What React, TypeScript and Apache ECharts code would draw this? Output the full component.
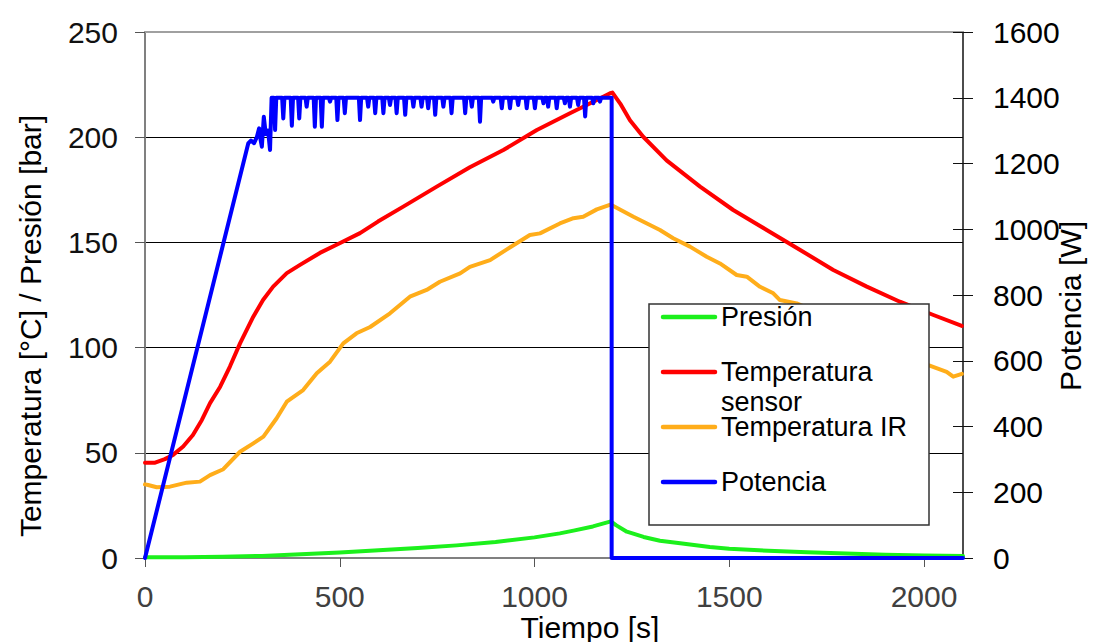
import React, { useEffect, useRef } from 'react';
import * as echarts from 'echarts';

// ---- Data (time [s], value) ----
const timeTicks = [0, 500, 1000, 1500, 2000];
const tempTicksMax = 250;
const powerTicksMax = 1600;

const presion: [number, number][] = [
  [0, 0.3], [100, 0.4], [200, 0.6], [300, 1.0], [400, 1.8], [500, 2.6], [600, 3.7],
  [700, 4.8], [800, 6.0], [900, 7.6], [1000, 9.8], [1065, 11.7], [1100, 13.0],
  [1150, 15.0], [1196, 17.4], [1210, 15.5], [1237, 12.5], [1280, 10.0], [1322, 8.2],
  [1374, 7.0], [1450, 5.2], [1500, 4.4], [1600, 3.4], [1700, 2.7], [1800, 2.1],
  [1900, 1.6], [2000, 1.2], [2100, 0.9],
];

const tempSensor: [number, number][] = [
  [0, 45.3], [26, 45.3], [51, 47], [72, 49], [98, 53], [123, 58.5], [146, 65.6],
  [167, 73.6], [193, 81.4], [218, 91], [244, 102], [278, 114.7], [303, 122.6],
  [329, 129], [364, 135.4], [398, 139.3], [449, 145], [501, 149.7], [552, 154.4],
  [598, 159.9], [663, 167], [749, 176.5], [834, 185.7], [920, 193.9], [1006, 203.4],
  [1091, 211.4], [1160, 217.7], [1194, 220.9], [1200, 221.2], [1220, 216], [1245, 208],
  [1279, 200.2], [1339, 189], [1425, 176.5], [1510, 165.4], [1596, 155.9],
  [1682, 146.4], [1767, 136.9], [1853, 129], [1938, 121.8], [2024, 115.5], [2097, 110.3],
];

const tempIR: [number, number][] = [
  [0, 35], [8, 34.7], [30, 33.6], [64, 33.9], [107, 35.8], [141, 36.3], [167, 39.4],
  [201, 42.2], [244, 50.5], [278, 54.5], [304, 57.7], [338, 66.4], [364, 74.3],
  [406, 79.8], [441, 87.8], [475, 93.3], [509, 102], [543, 106.8], [578, 109.8],
  [629, 116.3], [680, 124.2], [723, 127.4], [757, 131.3], [809, 135.3], [834, 138.4],
  [886, 141.6], [929, 146.7], [988, 153.5], [1014, 154.3], [1065, 159], [1100, 161.5],
  [1125, 162.2], [1160, 165.7], [1195, 168], [1254, 162.2], [1322, 155.9], [1356, 152],
  [1399, 148], [1442, 143.2], [1476, 140], [1519, 134.5], [1545, 133.7], [1579, 128.9],
  [1613, 125.8], [1630, 122.6], [1673, 121], [1760, 114], [1850, 106], [1940, 97],
  [2011, 91.7], [2058, 88.5], [2075, 86.2], [2097, 87.5],
];

const potencia: [number, number][] = [
  [0, 0], [265, 1261], [272, 1270], [280, 1262], [287, 1280], [293, 1307], [297, 1270],
  [300, 1251], [305, 1342], [310, 1290], [316, 1300], [321, 1241], [325, 1400],
  [331, 1400], [334, 1302], [337, 1400],
  [352, 1400], [355, 1337], [358, 1400],
  [374, 1400], [377, 1315], [380, 1400],
  [393, 1400], [396, 1337], [399, 1400],
  [412, 1400], [415, 1373], [418, 1400],
  [433, 1400], [436, 1312], [439, 1400],
  [451, 1400], [454, 1312], [457, 1400],
  [472, 1400], [475, 1388], [478, 1400],
  [491, 1400], [494, 1332], [497, 1400],
  [510, 1400], [513, 1353], [516, 1400],
  [549, 1400], [552, 1332], [555, 1400],
  [570, 1400], [573, 1373], [576, 1400],
  [588, 1400], [591, 1353], [594, 1400],
  [609, 1400], [612, 1353], [615, 1400],
  [626, 1400], [629, 1378], [632, 1400],
  [643, 1400], [646, 1353], [649, 1400],
  [665, 1400], [668, 1348], [671, 1400],
  [686, 1400], [689, 1373], [692, 1400],
  [707, 1400], [710, 1373], [713, 1400],
  [724, 1400], [727, 1368], [730, 1400],
  [742, 1400], [745, 1348], [748, 1400],
  [763, 1400], [766, 1373], [769, 1400],
  [784, 1400], [787, 1353], [790, 1400],
  [819, 1400], [822, 1353], [825, 1400],
  [836, 1400], [839, 1373], [842, 1400],
  [857, 1400], [860, 1327], [863, 1400],
  [891, 1400], [894, 1388], [897, 1400],
  [913, 1400], [916, 1368], [919, 1400],
  [934, 1400], [937, 1368], [940, 1400],
  [955, 1400], [958, 1378], [961, 1400],
  [977, 1400], [980, 1368], [983, 1400],
  [998, 1400], [1001, 1368], [1004, 1400],
  [1020, 1400], [1023, 1383], [1026, 1400],
  [1032, 1400], [1035, 1373], [1038, 1400],
  [1054, 1400], [1057, 1368], [1060, 1400],
  [1075, 1400], [1078, 1383], [1081, 1400],
  [1088, 1400], [1091, 1373], [1094, 1400],
  [1109, 1400], [1112, 1378], [1115, 1400],
  [1127, 1400], [1130, 1343], [1133, 1400],
  [1148, 1400], [1151, 1383], [1154, 1400],
  [1165, 1400], [1168, 1388], [1171, 1400],
  [1198, 1400], [1198, 0], [2100, 0],
];

const seriesNames = ['Presión', 'Temperatura sensor', 'Temperatura IR', 'Potencia'];
const legendLabels = ['Presión', 'Temperatura\nsensor', 'Temperatura IR', 'Potencia'];
const seriesColors = ['#1cf01c', '#ff0000', '#ffad1a', '#0000ff'];

const FONT = '"Liberation Sans", Arial, Helvetica, sans-serif';
const plain = (v: number) => String(v);

export default function App() {
  const ref = useRef<HTMLDivElement>(null);

  useEffect(() => {
    if (!ref.current) return;
    const chart = echarts.init(ref.current, null, { renderer: 'svg' });

    const legendY = [317, 372, 427, 482];
    const legendItems: any[] = [];
    legendItems.push({
      type: 'rect',
      z: 100,
      shape: { x: 649, y: 304, width: 280, height: 221 },
      style: { fill: '#ffffff', stroke: '#333333', lineWidth: 1.5 },
    });
    seriesNames.forEach((_, i) => {
      legendItems.push({
        type: 'line',
        z: 101,
        shape: { x1: 663, y1: legendY[i], x2: 715, y2: legendY[i] },
        style: { stroke: seriesColors[i], lineWidth: 4.5, lineCap: 'round' },
      });
      const multi = legendLabels[i].includes('\n');
      legendItems.push({
        type: 'text',
        z: 101,
        x: 721,
        y: multi ? legendY[i] + 15 : legendY[i],
        style: {
          text: legendLabels[i],
          fill: '#000',
          fontSize: 27,
          fontFamily: FONT,
          align: 'left',
          verticalAlign: 'middle',
          lineHeight: 30,
        },
      });
    });

    const gridBox = { left: 145, right: 130, top: 32, bottom: 84, containLabel: false };

    const option: any = {
      animation: false,
      backgroundColor: '#ffffff',
      textStyle: { fontFamily: FONT },
      grid: [gridBox, { ...gridBox }],
      xAxis: [
        {
          type: 'value',
          gridIndex: 0,
          min: 0,
          max: 2100,
          position: 'bottom',
          axisLine: { show: true, onZero: false, lineStyle: { color: '#808080', width: 2 } },
          axisTick: { show: true, inside: false, length: 9, customValues: timeTicks, lineStyle: { color: '#555' } },
          axisLabel: { show: true, customValues: timeTicks, fontSize: 30, color: '#404040', margin: 23, fontFamily: FONT, formatter: plain },
          splitLine: { show: false },
        },
        {
          type: 'value',
          gridIndex: 0,
          min: 0,
          max: 2100,
          position: 'top',
          axisLine: { show: true, onZero: false, lineStyle: { color: '#a0a0a0', width: 2 } },
          axisTick: { show: false },
          axisLabel: { show: false },
          splitLine: { show: false },
        },
        {
          type: 'value',
          gridIndex: 1,
          min: 0,
          max: 2100,
          position: 'bottom',
          axisLine: { show: false, onZero: false },
          axisTick: { show: false },
          axisLabel: { show: false },
          splitLine: { show: false },
        },
      ],
      yAxis: [
        {
          type: 'value',
          gridIndex: 0,
          min: 0,
          max: tempTicksMax,
          interval: 50,
          position: 'left',
          axisLine: { show: true, onZero: false, lineStyle: { color: '#808080', width: 2 } },
          axisTick: { show: true, inside: false, length: 10, lineStyle: { color: '#555' } },
          axisLabel: { fontSize: 30, color: '#111', margin: 27, fontFamily: FONT, formatter: plain },
          splitLine: { show: true, lineStyle: { color: '#000', width: 1 } },
        },
        {
          type: 'value',
          gridIndex: 0,
          min: 0,
          max: powerTicksMax,
          interval: 200,
          position: 'right',
          axisLine: { show: true, onZero: false, lineStyle: { color: '#111', width: 1.5 } },
          axisTick: { show: true, inside: false, length: 10, lineStyle: { color: '#111' } },
          axisLabel: { fontSize: 30, color: '#000', margin: 30, fontFamily: FONT, formatter: plain },
          splitLine: { show: false },
        },
        {
          type: 'value',
          gridIndex: 1,
          min: 0,
          max: powerTicksMax,
          interval: 200,
          position: 'right',
          axisLine: { show: false, onZero: false },
          axisTick: { show: true, inside: true, length: 10, lineStyle: { color: '#111' } },
          axisLabel: { show: false },
          splitLine: { show: false },
        },
      ],
      series: [
        { name: seriesNames[0], type: 'line', data: presion, yAxisIndex: 0 },
        { name: seriesNames[2], type: 'line', data: tempIR, yAxisIndex: 0 },
        { name: seriesNames[1], type: 'line', data: tempSensor, yAxisIndex: 0 },
        { name: seriesNames[3], type: 'line', data: potencia, yAxisIndex: 1 },
      ].map((s) => ({
        ...s,
        xAxisIndex: 0,
        showSymbol: false,
        symbol: 'none',
        clip: false,
        lineStyle: { width: 4, color: seriesColors[seriesNames.indexOf(s.name)], join: 'round', cap: 'round' },
        itemStyle: { color: seriesColors[seriesNames.indexOf(s.name)] },
        z: 2,
      })),
      graphic: [
        ...legendItems,
        {
          type: 'text',
          z: 100,
          x: 590,
          y: 627,
          style: { text: 'Tiempo [s]', fill: '#000', fontSize: 30, fontFamily: FONT, align: 'center', verticalAlign: 'middle' },
        },
        {
          type: 'text',
          z: 100,
          x: 30,
          y: 326,
          rotation: Math.PI / 2,
          style: { text: 'Temperatura [°C] / Presión [bar]', fill: '#000', fontSize: 30, fontFamily: FONT, align: 'center', verticalAlign: 'middle' },
        },
        {
          type: 'text',
          z: 100,
          x: 1070,
          y: 306,
          rotation: Math.PI / 2,
          style: { text: 'Potencia [W]', fill: '#000', fontSize: 30, fontFamily: FONT, align: 'center', verticalAlign: 'middle' },
        },
      ],
    };

    chart.setOption(option);
    return () => chart.dispose();
  }, []);

  return (
    <div
      ref={ref}
      style={{ position: 'fixed', left: 0, top: 0, width: '1093px', height: '642px', background: '#fff' }}
    />
  );
}
